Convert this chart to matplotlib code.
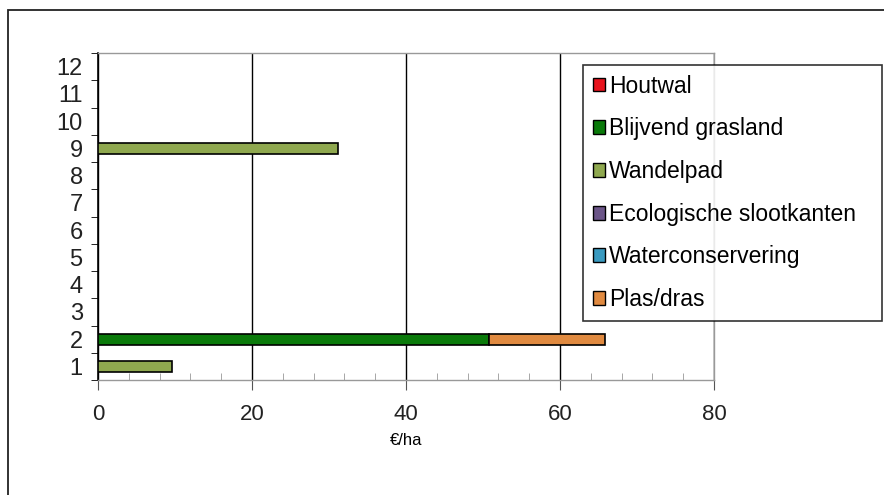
import numpy as np
import matplotlib
matplotlib.use("Agg")
import matplotlib.pyplot as plt
from matplotlib.patches import Patch, Rectangle

plt.rcParams['font.family'] = ['Liberation Sans', 'DejaVu Sans']

categories = [str(i) for i in range(1, 13)]
series_names = ['Houtwal', 'Blijvend grasland', 'Wandelpad',
                'Ecologische slootkanten', 'Waterconservering', 'Plas/dras']
colors = ['#e8141e', '#0a7a0a', '#8fa84f', '#6b5588', '#3a9ac0', '#e08a40']

houtwal = [0, 0, 0, 0, 0, 0, 0, 0, 0, 0, 0, 0]
blijvend = [0, 50.8, 0, 0, 0, 0, 0, 0, 0, 0, 0, 0]
wandelpad = [9.6, 0, 0, 0, 0, 0, 0, 0, 31.2, 0, 0, 0]
ecologisch = [0, 0, 0, 0, 0, 0, 0, 0, 0, 0, 0, 0]
water = [0, 0, 0, 0, 0, 0, 0, 0, 0, 0, 0, 0]
plasdras = [0, 15.0, 0, 0, 0, 0, 0, 0, 0, 0, 0, 0]
series = [houtwal, blijvend, wandelpad, ecologisch, water, plasdras]

fig = plt.figure(figsize=(8.84, 4.95), dpi=100)
ax = fig.add_axes([98/884, 1-380/495, (714-98)/884, (380-53)/495])

ypos = np.arange(1, len(categories) + 1)
left = np.zeros(len(categories))
for vals, col in zip(series, colors):
    vals = np.array(vals, dtype=float)
    m = vals > 0
    if m.any():
        ax.barh(ypos[m], vals[m], left=left[m], height=0.4, color=col,
                edgecolor='black', linewidth=1.2, zorder=3)
    left += vals

ax.set_xlim(0, 80)
ax.set_ylim(0.5, 12.5)
ax.set_xticks([0, 20, 40, 60, 80])
ax.set_xticks(np.arange(0, 81, 4), minor=True)
ax.set_yticks(ypos)
ax.set_yticklabels(categories)
ax.set_yticks(np.arange(0.5, 12.6, 1), minor=True)
ax.xaxis.grid(True, color='black', linewidth=1.0, zorder=1)
ax.set_axisbelow(True)

ax.tick_params(axis='x', which='major', length=7, color='#555555', labelsize=16, pad=10)
ax.tick_params(axis='x', which='minor', direction='in', length=5, color='#999999')
ax.tick_params(axis='y', which='major', length=0, labelsize=17, pad=11)
ax.tick_params(axis='y', which='minor', direction='out', length=5, color='black')
for lab in ax.get_xticklabels() + ax.get_yticklabels():
    lab.set_color('#222222')

ax.spines['left'].set_color('black')
ax.spines['left'].set_linewidth(1.2)
for s in ['bottom', 'top', 'right']:
    ax.spines[s].set_color('#999999')
    ax.spines[s].set_linewidth(1.0)

ax.set_xlabel('€/ha', fontsize=12, labelpad=6)

handles = [Patch(facecolor=c, edgecolor='black', linewidth=1.0) for c in colors]
leg = fig.legend(handles, series_names, loc='upper left',
                 bbox_to_anchor=(583/884, 1-65/495, (882-583)/884, 0.0),
                 mode='expand', fontsize=16.5, frameon=True, fancybox=False,
                 edgecolor='black', handlelength=0.55, handleheight=0.55,
                 handletextpad=0.15, labelspacing=0.86, borderpad=0.42,
                 borderaxespad=0)
leg.get_frame().set_linewidth(1.2)
leg.set_zorder(10)

fig.patches.append(Rectangle((8/884, -0.1), 1.2, 1-10/495+0.1,
                             transform=fig.transFigure, fill=False,
                             edgecolor='#222222', linewidth=1.3))

fig.savefig('out.png', dpi=100)
